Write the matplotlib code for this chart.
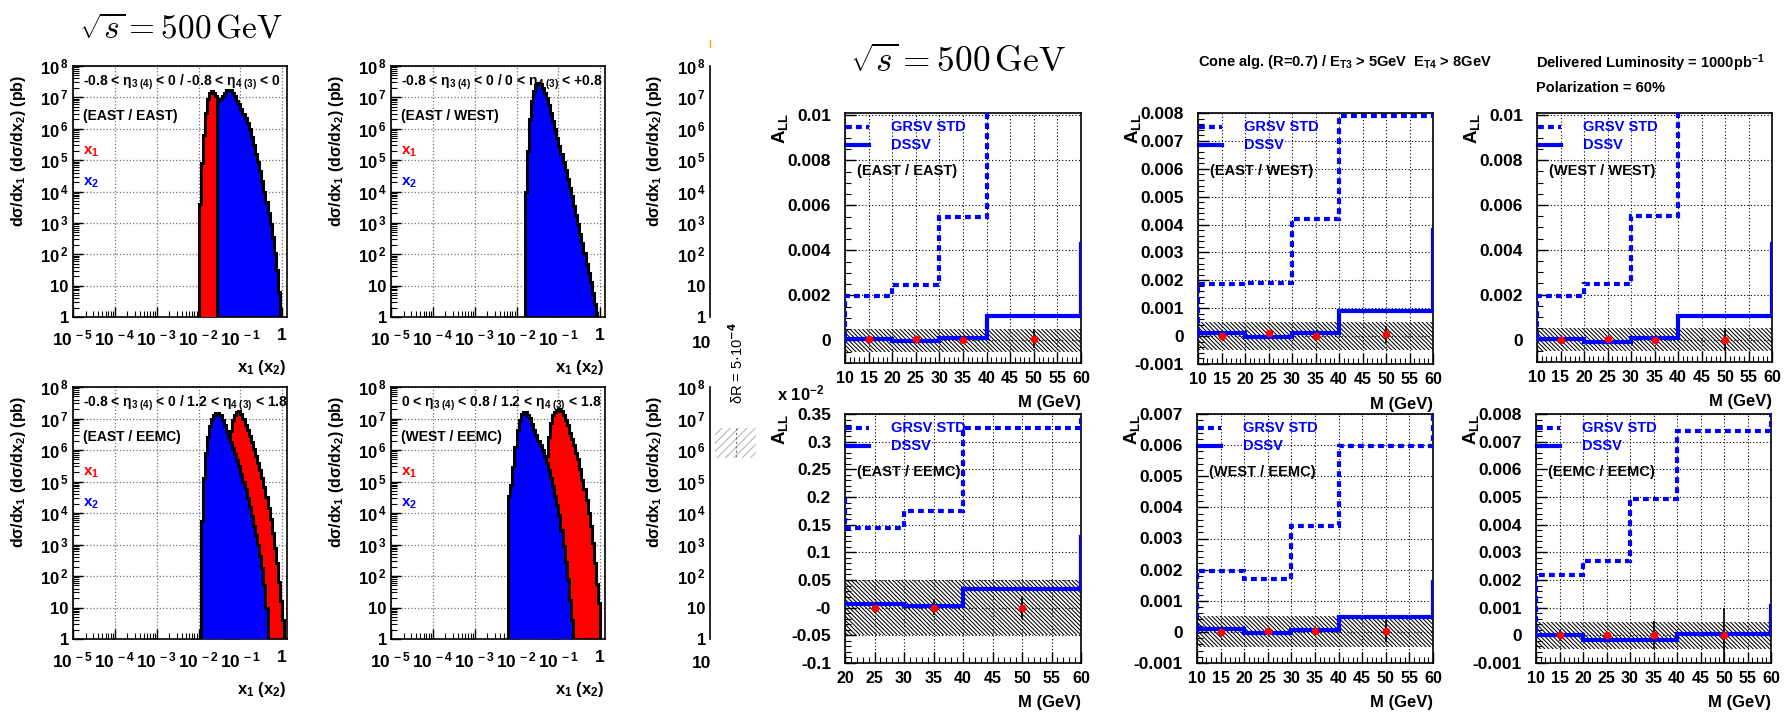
import numpy as np
import matplotlib
matplotlib.use('Agg')
import matplotlib.pyplot as plt
from matplotlib.ticker import FixedLocator, MultipleLocator, LogLocator, FuncFormatter, NullFormatter
from matplotlib.patches import Rectangle
from matplotlib.lines import Line2D

W, H = 1791, 715

plt.rcParams['font.family'] = ['Liberation Sans', 'DejaVu Sans']
plt.rcParams['font.weight'] = 'bold'
plt.rcParams['mathtext.fontset'] = 'custom'
plt.rcParams['mathtext.rm'] = 'Liberation Sans:bold'
plt.rcParams['mathtext.it'] = 'Liberation Sans:bold'
plt.rcParams['mathtext.bf'] = 'Liberation Sans:bold'
plt.rcParams['mathtext.sf'] = 'Liberation Sans:bold'
plt.rcParams['hatch.linewidth'] = 0.75

#### x1 / x2 spectra: log10(x) of first bin edge, log10(dsigma/dx) per bin
LOG_BIN = 0.05

ee_x1_start = -2.00
ee_x1_logy = [3.6, 4.9, 5.8, 6.5, 6.95, 7.15, 7.2, 7.15, 7.05]
ee_x2_start = -1.55
ee_x2_logy = [6.9, 6.95, 7.05, 7.15, 7.22, 7.25, 7.22, 7.15, 7.03, 6.9,
              6.78, 6.62, 6.47, 6.33, 6.17, 6.0, 5.75, 5.48, 5.2, 4.93,
              4.65, 4.33, 4.0, 3.65, 3.3, 2.95, 2.55, 2.05, 1.5, 0.8]

ew_x2_start = -1.80
ew_x2_logy = [4.0, 5.3, 6.3, 6.9, 7.2, 7.4, 7.45, 7.42, 7.3, 7.15,
              6.98, 6.75, 6.5, 6.25, 6.0, 5.72, 5.45, 5.2, 4.93, 4.67,
              4.4, 4.12, 3.85, 3.55, 3.25, 2.95, 2.65, 2.35, 2.05, 1.7,
              1.4, 1.1, 0.75, 0.4]

eeemc_x1_start = -1.30
eeemc_x1_logy = [6.2, 6.6, 6.95, 7.12, 7.22, 7.25, 7.15, 7.0, 6.8, 6.62,
                 6.45, 6.25, 6.02, 5.8, 5.6, 5.38, 5.12, 4.82, 4.5, 4.15,
                 3.8, 3.35, 2.9, 2.4, 1.8, 1.2, 0.6]
eeemc_x2_start = -1.95
eeemc_x2_logy = [3.75, 5.1, 5.9, 6.4, 6.75, 7.0, 7.12, 7.18, 7.17, 7.1,
                 6.95, 6.78, 6.6, 6.42, 6.25, 6.05, 5.88, 5.68, 5.48, 5.25,
                 5.0, 4.75, 4.48, 4.2, 3.9, 3.6, 3.3, 3.0, 2.65, 2.25,
                 1.7, 1.0]

weemc_x1_start = -1.35
weemc_x1_logy = [5.4, 5.8, 6.4, 6.85, 7.1, 7.2, 7.28, 7.3, 7.25, 7.1,
                 6.95, 6.78, 6.55, 6.35, 6.15, 5.92, 5.7, 5.4, 5.05, 4.75,
                 4.42, 4.0, 3.6, 3.05, 2.4, 1.75, 1.15]
weemc_x2_start = -2.20
weemc_x2_logy = [4.55, 4.9, 5.45, 6.1, 6.65, 6.95, 7.15, 7.2, 7.2, 7.12,
                 7.02, 6.82, 6.65, 6.47, 6.3, 6.15, 6.0, 5.82, 5.6, 5.38,
                 5.12, 4.85, 4.55, 4.25, 3.95, 3.45, 2.95, 2.45, 1.9, 1.25,
                 0.6]

#### A_LL vs M: bin edges include one under- and one overflow bin
mass_edges = [0, 10, 20, 30, 40, 60, 70]
mass_edges_eeemc = [10, 20, 30, 40, 60, 70]
pts_m = [15, 25, 35, 50]
pts_m_eeemc = [25, 35, 50]

grsv_ee = [0.0, 0.00198, 0.00247, 0.00549, 0.0150, 0.0150]
dssv_ee = [0.0, 0.00007, -0.00004, 0.00012, 0.00110, 0.00430]
pts_ee = [0.00007, 0.00007, 0.00004, 0.00007]
err_ee = [0.0001, 0.00015, 0.00015, 0.0004]

grsv_ew = [0.0, 0.00188, 0.00190, 0.00419, 0.00788, 0.0090]
dssv_ew = [0.0, 0.00010, -0.00004, 0.00012, 0.00090, 0.00380]
pts_ew = [0.00002, 0.0001, 0.00002, 0.00006]
err_ew = [0.0001, 0.0001, 0.0001, 0.0003]

grsv_ww = [0.0, 0.00196, 0.00249, 0.00551, 0.0150, 0.0150]
dssv_ww = [0.0, 0.00004, -0.00012, 0.00007, 0.00104, 0.00427]
pts_ww = [0.0, 0.00003, -0.00004, 0.0]
err_ww = [0.0001, 0.0001, 0.0001, 0.0005]

grsv_eeemc = [0.00200, 0.001436, 0.00175, 0.003245, 0.00344]
dssv_eeemc = [0.00006, 0.00006, 0.00003, 0.00033, 0.00127]
pts_eeemc = [0.0, 0.0, 0.0]
err_eeemc = [0.00009, 0.00013, 0.0002]

grsv_weemc = [0.0, 0.00194, 0.00171, 0.00340, 0.00596, 0.0075]
dssv_weemc = [0.0, 0.00009, -0.00003, 0.00005, 0.00047, 0.0016]
pts_weemc = [0.0, 0.00003, 0.00002, 0.00004]
err_weemc = [0.0001, 0.0001, 0.0001, 0.00035]

grsv_mm = [0.0, 0.00219, 0.00267, 0.00491, 0.00740, 0.0085]
dssv_mm = [0.0, 0.00002, -0.00018, -0.00016, 0.00006, 0.00106]
pts_mm = [0.0, 0.0, 0.0, 0.0]
err_mm = [0.0002, 0.0001, 0.0005, 0.001]

fig = plt.figure(figsize=(W / 100, H / 100), dpi=100)


def px_axes(left, top, right, bottom):
    return fig.add_axes([left / W, 1 - bottom / H, (right - left) / W, (bottom - top) / H])


def ftext(x, y, s, **kw):
    return fig.text(x / W, 1 - y / H, s, **kw)


def pow_label(v, pos):
    e = int(round(np.log10(v)))
    if e == 0:
        return '1'
    if e == 1:
        return '10'
    return '10$^{\\,%d}$' % e


def draw_hist(ax, start, logy, color, z):
    edges = 10 ** (start + LOG_BIN * np.arange(len(logy) + 1))
    vals = 10 ** np.array(logy)
    ax.stairs(vals, edges, baseline=1, fill=True, color=color, lw=0, zorder=z)
    ax.stairs(vals, edges, baseline=1, fill=False, color='black', lw=2.2, zorder=z + 0.5)


def setup_hist(ax, rng, det):
    ax.set_xscale('log')
    ax.set_yscale('log')
    ax.set_xlim(1e-5, 1.3)
    ax.set_ylim(1, 1e8)
    ax.xaxis.set_major_locator(FixedLocator(10.0 ** np.arange(-5, 1)))
    ax.xaxis.set_minor_locator(LogLocator(base=10, subs=np.arange(2, 10), numticks=30))
    ax.yaxis.set_major_locator(FixedLocator(10.0 ** np.arange(0, 9)))
    ax.yaxis.set_minor_locator(LogLocator(base=10, subs=np.arange(2, 10), numticks=30))
    ax.xaxis.set_major_formatter(FuncFormatter(pow_label))
    ax.yaxis.set_major_formatter(FuncFormatter(pow_label))
    ax.xaxis.set_minor_formatter(NullFormatter())
    ax.yaxis.set_minor_formatter(NullFormatter())
    ax.tick_params(which='both', direction='in', top=False, right=False)
    ax.tick_params(which='major', length=7, width=1)
    ax.tick_params(which='minor', length=4, width=0.8)
    ax.tick_params(axis='x', labelsize=12.5, pad=8)
    ax.tick_params(axis='y', labelsize=12, pad=3)
    ax.grid(True, which='major', ls=':', color='0.45', lw=0.9)
    ax.set_axisbelow(True)
    for sp in ax.spines.values():
        sp.set_linewidth(1.2)
    ax.text(0.047, 0.935, rng, transform=ax.transAxes, fontsize=10, va='center', zorder=6)
    ax.text(0.047, 0.80, det, transform=ax.transAxes, fontsize=10, va='center', zorder=6)
    ax.text(0.047, 0.66, 'x$_{1}$', transform=ax.transAxes, fontsize=11, va='center', color='red')
    ax.text(0.047, 0.535, 'x$_{2}$', transform=ax.transAxes, fontsize=11, va='center', color='blue')
    ax.text(-55 / 214, 0.964, 'dσ/dx$_{1}$ (dσ/dx$_{2}$) (pb)', transform=ax.transAxes,
            rotation=90, ha='center', va='top', fontsize=11.5)
    ax.text(1.0, -0.2, 'x$_{1}$ (x$_{2}$)', transform=ax.transAxes, ha='right', va='center', fontsize=12)


def cut_hist(ax):
    ax.set_yscale('log')
    ax.set_ylim(1, 1e8)
    ax.set_xticks([])
    ax.yaxis.set_major_locator(FixedLocator(10.0 ** np.arange(0, 9)))
    ax.yaxis.set_minor_locator(FixedLocator([]))
    ax.yaxis.set_major_formatter(FuncFormatter(pow_label))
    ax.tick_params(axis='y', length=0, labelsize=12, pad=3)
    for k in ['top', 'right', 'bottom']:
        ax.spines[k].set_visible(False)
    ax.spines['left'].set_linewidth(1.2)
    ax.patch.set_visible(False)
    ax.text(-55, 0.964, 'dσ/dx$_{1}$ (dσ/dx$_{2}$) (pb)', transform=ax.transAxes,
            rotation=90, ha='center', va='top', fontsize=11.5)


def draw_asym(ax, edges, grsv, dssv, pm, pv, pe, xlim, ylim, ystep, yminor, det,
              scale=1.0, zero_txt='0'):
    g = np.array(grsv) / scale
    d = np.array(dssv) / scale
    ax.axhspan(-5e-4 / scale, 5e-4 / scale, facecolor='none', edgecolor='black',
               hatch='\\' * 8, lw=0, zorder=1)
    ax.stairs(g, edges, baseline=None, color='blue', lw=3, ls=(0, (1.4, 1.0)), zorder=4)
    ax.stairs(d, edges, baseline=None, color='blue', lw=3, zorder=4)
    ax.errorbar(pm, np.array(pv) / scale, yerr=np.array(pe) / scale, fmt='o', color='red',
                ms=4.5, ecolor='black', elinewidth=1.2, capsize=0, zorder=6)
    ax.set_xlim(xlim)
    ax.set_ylim(ylim)
    ax.xaxis.set_major_locator(MultipleLocator(5))
    ax.xaxis.set_minor_locator(MultipleLocator(1))
    ax.yaxis.set_major_locator(MultipleLocator(ystep))
    ax.yaxis.set_minor_locator(MultipleLocator(yminor))

    def yfmt(v, pos):
        v = round(v, 9)
        return zero_txt if v == 0 else '%g' % v

    ax.yaxis.set_major_formatter(FuncFormatter(yfmt))
    ax.xaxis.set_major_formatter(FuncFormatter(lambda v, p: '%d' % round(v)))
    ax.tick_params(which='both', direction='in', top=False, right=False)
    ax.tick_params(which='major', length=8, width=1)
    ax.tick_params(which='minor', length=4, width=0.8)
    ax.tick_params(axis='x', labelsize=11.5, pad=6)
    ax.tick_params(axis='y', labelsize=12.5, pad=10)
    ax.grid(True, which='major', ls=(0, (1, 2)), color='black', lw=0.8)
    ax.set_axisbelow(True)
    for sp in ax.spines.values():
        sp.set_linewidth(1.2)
    ax.add_line(Line2D([0.005, 0.10], [0.944, 0.944], transform=ax.transAxes, color='blue',
                       lw=3, ls=(0, (1.4, 1.0)), clip_on=False))
    ax.add_line(Line2D([0.005, 0.10], [0.872, 0.872], transform=ax.transAxes, color='blue',
                       lw=3, clip_on=False))
    ax.text(0.195, 0.944, 'GRSV STD', transform=ax.transAxes, color='blue', fontsize=10.5, va='center')
    ax.text(0.195, 0.872, 'DSSV', transform=ax.transAxes, color='blue', fontsize=10.5, va='center')
    ax.text(0.05, 0.768, det, transform=ax.transAxes, fontsize=10.5, va='center', zorder=7)
    ax.text(-65 / 235, 1.0, 'A$_{LL}$', transform=ax.transAxes, rotation=90,
            ha='center', va='top', fontsize=13.5)
    ax.text(1.0, -0.16, 'M (GeV)', transform=ax.transAxes, ha='right', va='center', fontsize=12)


# ---- left block: x1, x2 spectra
axA = px_axes(73, 66, 287, 317)
setup_hist(axA, '-0.8 < η$_{3\\ (4)}$ < 0 / -0.8 < η$_{4\\ (3)}$ < 0', '(EAST / EAST)')
draw_hist(axA, ee_x2_start, ee_x2_logy, 'blue', 2)
draw_hist(axA, ee_x1_start, ee_x1_logy, 'red', 3)

axB = px_axes(391, 66, 605, 317)
setup_hist(axB, '-0.8 < η$_{3\\ (4)}$ < 0 / 0 < η$_{4\\ (3)}$ < +0.8', '(EAST / WEST)')
draw_hist(axB, ew_x2_start, ew_x2_logy, 'blue', 2)

axC = px_axes(73, 387, 287, 639)
setup_hist(axC, '-0.8 < η$_{3\\ (4)}$ < 0 / 1.2 < η$_{4\\ (3)}$ < 1.8', '(EAST / EEMC)')
draw_hist(axC, eeemc_x1_start, eeemc_x1_logy, 'red', 2)
draw_hist(axC, eeemc_x2_start, eeemc_x2_logy, 'blue', 3)

axD = px_axes(391, 387, 605, 639)
setup_hist(axD, '0 < η$_{3\\ (4)}$ < 0.8 / 1.2 < η$_{4\\ (3)}$ < 1.8', '(WEST / EEMC)')
draw_hist(axD, weemc_x1_start, weemc_x1_logy, 'red', 2)
draw_hist(axD, weemc_x2_start, weemc_x2_logy, 'blue', 3)

# third column, cropped in the original
for top, bot, ylab in [(66, 317, 343), (387, 639, 663)]:
    axc = px_axes(710, top, 711, bot)
    cut_hist(axc)
    ftext(711, ylab, '10', ha='right', va='center', fontsize=12.5)
fig.add_artist(Line2D([710 / W] * 2, [1 - 40 / H, 1 - 47 / H], transform=fig.transFigure,
                      color='orange', lw=1))

ftext(737, 363, 'δR = 5·10$^{-4}$', rotation=90, ha='center', va='center', fontsize=10.5,
      fontweight='normal', math_fontfamily='dejavusans')
fig.add_artist(Rectangle((715 / W, 1 - 458 / H), 41 / W, 30 / H, transform=fig.transFigure,
                         facecolor='none', edgecolor='#b5b5b5', hatch='////', lw=0))
fig.add_artist(Line2D([736 / W] * 2, [1 - 428 / H, 1 - 458 / H], transform=fig.transFigure,
                      color='0.45', lw=0.8, ls=(0, (2, 2))))

# ---- right block: A_LL vs M
ax1 = px_axes(845, 113, 1081, 363)
draw_asym(ax1, mass_edges, grsv_ee, dssv_ee, pts_m, pts_ee, err_ee, (10, 60),
          (-0.001, 0.0101), 0.002, 0.0005, '(EAST / EAST)')
ax2 = px_axes(1198, 113, 1433, 364)
draw_asym(ax2, mass_edges, grsv_ew, dssv_ew, pts_m, pts_ew, err_ew, (10, 60),
          (-0.001, 0.008), 0.001, 0.0002, '(EAST / WEST)')
ax3 = px_axes(1537, 113, 1772, 362)
draw_asym(ax3, mass_edges, grsv_ww, dssv_ww, pts_m, pts_ww, err_ww, (10, 60),
          (-0.001, 0.0101), 0.002, 0.0005, '(WEST / WEST)')
ax4 = px_axes(845, 414, 1081, 663)
draw_asym(ax4, mass_edges_eeemc, grsv_eeemc, dssv_eeemc, pts_m_eeemc, pts_eeemc, err_eeemc,
          (20, 60), (-0.1, 0.35), 0.05, 0.01, '(EAST / EEMC)', scale=1e-2, zero_txt='-0')
ax5 = px_axes(1197, 414, 1433, 663)
draw_asym(ax5, mass_edges, grsv_weemc, dssv_weemc, pts_m, pts_weemc, err_weemc, (10, 60),
          (-0.001, 0.007), 0.001, 0.0002, '(WEST / EEMC)')
ax6 = px_axes(1536, 414, 1771, 663)
draw_asym(ax6, mass_edges, grsv_mm, dssv_mm, pts_m, pts_mm, err_mm, (10, 60),
          (-0.001, 0.008), 0.001, 0.0002, '(EEMC / EEMC)')

ftext(777, 393, 'x 10$^{-2}$', ha='left', va='center', fontsize=12)

# ---- titles and run conditions
ftext(79, 38, r'$\sqrt{s} = 500\,\mathrm{GeV}$', ha='left', va='baseline', fontsize=24,
      math_fontfamily='cm')
ftext(850, 72, r'$\sqrt{s} = 500\,\mathrm{GeV}$', ha='left', va='baseline', fontsize=25.5,
      math_fontfamily='cm')
ftext(1198, 62, 'Cone alg. (R=0.7) / E$_{T3}$ > 5GeV  E$_{T4}$ > 8GeV', ha='left', va='center',
      fontsize=10.5)
ftext(1536, 63, 'Delivered Luminosity = 1000pb$^{-1}$', ha='left', va='center', fontsize=10.5)
ftext(1536, 88, 'Polarization = 60%', ha='left', va='center', fontsize=10.5)

fig.savefig('out.png', dpi=100)
